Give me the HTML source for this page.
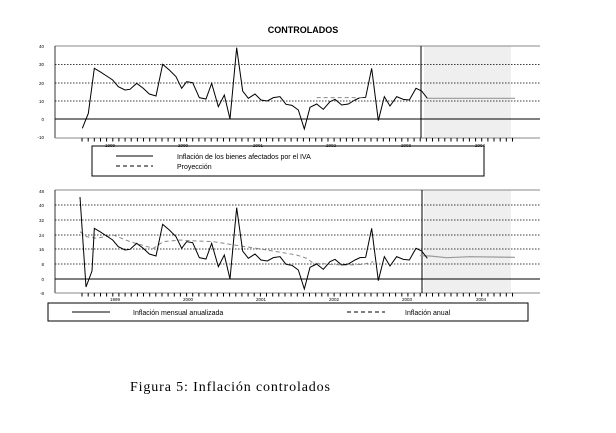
<!DOCTYPE html>
<html><head><meta charset="utf-8"><style>
body{margin:0;background:#fff;width:616px;height:433px;overflow:hidden}
svg{position:absolute;left:0;top:0}
text{font-family:"Liberation Sans",sans-serif}
</style></head><body>
<svg width="616" height="433" viewBox="0 0 616 433">
<text x="303" y="33" font-size="9" font-weight="bold" text-anchor="middle">CONTROLADOS</text>
<!-- chart 1 -->
<rect x="424" y="46" width="87" height="92" fill="#efefef"/>
<line x1="55" y1="46" x2="540" y2="46" stroke="#888" stroke-width="1"/>
<g stroke="#000" stroke-width="0.8" stroke-dasharray="1.5,1.5">
<line x1="55" y1="64.5" x2="540" y2="64.5"/><line x1="55" y1="83" x2="540" y2="83"/><line x1="55" y1="101" x2="540" y2="101"/></g>
<line x1="55" y1="119" x2="540" y2="119" stroke="#000" stroke-width="1"/>
<line x1="55" y1="46" x2="55" y2="138" stroke="#000" stroke-width="0.8"/>
<line x1="55" y1="138" x2="540" y2="138" stroke="#888" stroke-width="1"/>
<line x1="421" y1="46" x2="421" y2="138" stroke="#000" stroke-width="1"/>
<g font-size="4.5" text-anchor="end"><text x="44" y="48">40</text><text x="44" y="66">30</text><text x="44" y="85">20</text><text x="44" y="103">10</text><text x="44" y="121">0</text><text x="44" y="139">-10</text></g>
<g font-size="4.5" text-anchor="middle"><text x="110" y="147">1999</text><text x="183" y="147">2000</text><text x="258" y="147">2001</text><text x="331" y="147">2002</text><text x="406" y="147">2003</text><text x="480" y="147">2004</text></g>
<g id="ticks1" stroke="#000" stroke-width="1"></g>
<g transform="translate(30,20) scale(0.33333)" fill="none">
<polyline vector-effect="non-scaling-stroke" stroke="#000" stroke-width="1" points="157,325 175,280 193,145 210,155 230,168 248,180 265,200 285,210 300,208 320,190 340,205 358,222 378,228 398,133 418,150 438,170 455,205 470,185 488,188 508,233 528,237 545,190 565,260 583,225 600,297 620,83 638,213 655,235 675,222 693,240 712,243 730,233 750,230 768,253 786,256 805,270 823,327 840,262 860,252 880,268 900,245 915,238 935,255 955,252 975,240 990,233 1007,232 1025,145 1045,302 1063,230 1080,258 1100,230 1120,238 1138,240 1158,205 1175,213 1192,235"/>
<polyline vector-effect="non-scaling-stroke" stroke="#888" stroke-width="1" stroke-dasharray="4,3" points="860,233 1000,233"/>
<polyline vector-effect="non-scaling-stroke" stroke="#999" stroke-width="1.2" points="1192,235 1455,235"/>
</g>
<rect x="92" y="146" width="392" height="30" fill="none" stroke="#000" stroke-width="1"/>
<line x1="116" y1="156" x2="153" y2="156" stroke="#000"/>
<line x1="116" y1="166" x2="153" y2="166" stroke="#000" stroke-dasharray="4,3"/>
<text x="177" y="159" font-size="7">Inflación de los bienes afectados por el IVA</text>
<text x="177" y="169" font-size="7">Proyección</text>
<!-- chart 2 -->
<rect x="424" y="190" width="87" height="103" fill="#efefef"/>
<line x1="55" y1="190" x2="540" y2="190" stroke="#888" stroke-width="1"/>
<g stroke="#000" stroke-width="0.8" stroke-dasharray="1.5,1.5">
<line x1="55" y1="205" x2="540" y2="205"/><line x1="55" y1="220" x2="540" y2="220"/><line x1="55" y1="235" x2="540" y2="235"/><line x1="55" y1="249" x2="540" y2="249"/><line x1="55" y1="264" x2="540" y2="264"/></g>
<line x1="55" y1="279" x2="540" y2="279" stroke="#000" stroke-width="1"/>
<line x1="55" y1="190" x2="55" y2="293" stroke="#000" stroke-width="0.8"/>
<line x1="55" y1="293" x2="540" y2="293" stroke="#888" stroke-width="1"/>
<line x1="422" y1="190" x2="422" y2="293" stroke="#000" stroke-width="1"/>
<g font-size="4.5" text-anchor="end"><text x="44" y="193">48</text><text x="44" y="207">40</text><text x="44" y="222">32</text><text x="44" y="237">24</text><text x="44" y="251">16</text><text x="44" y="266">8</text><text x="44" y="281">0</text><text x="44" y="295">-8</text></g>
<g font-size="4.5" text-anchor="middle"><text x="115" y="301">1999</text><text x="188" y="301">2000</text><text x="261" y="301">2001</text><text x="334" y="301">2002</text><text x="407" y="301">2003</text><text x="481" y="301">2004</text></g>
<g id="ticks2" stroke="#000" stroke-width="1"></g>
<g transform="translate(30,185) scale(0.33333)" fill="none">
<polyline vector-effect="non-scaling-stroke" stroke="#888" stroke-width="1" stroke-dasharray="4,3" points="150,140 170,155 200,160 250,150 300,170 370,190 400,170 450,165 500,168 550,170 600,178 680,190 740,200 800,210 830,220 850,235 870,235 900,238 950,240 1000,238 1030,230"/>
<polyline vector-effect="non-scaling-stroke" stroke="#999" stroke-width="1.2" points="1170,212 1200,213 1250,218 1320,215 1455,217"/>
</g>
<g transform="translate(30,180) scale(0.33333)" fill="none">
<polyline vector-effect="non-scaling-stroke" stroke="#000" stroke-width="1" points="150,51 168,321 186,273 193,145 210,155 230,168 248,180 265,200 285,210 300,208 320,190 340,205 358,222 378,228 398,133 418,150 438,170 455,205 470,185 488,188 508,233 528,237 545,190 565,260 583,225 600,297 620,83 638,213 655,235 675,222 693,240 712,243 730,233 750,230 768,253 786,256 805,270 823,327 840,262 860,252 880,268 900,245 915,238 935,255 955,252 975,240 990,233 1007,232 1025,145 1045,302 1063,230 1080,258 1100,230 1120,238 1138,240 1158,205 1175,213 1192,235"/>
</g>
<rect x="48" y="303" width="480" height="18" fill="none" stroke="#000" stroke-width="1"/>
<line x1="72" y1="312" x2="110" y2="312" stroke="#000"/>
<line x1="347" y1="312" x2="385" y2="312" stroke="#000" stroke-dasharray="4,3"/>
<text x="133" y="315" font-size="7">Inflación mensual anualizada</text>
<text x="405" y="315" font-size="7">Inflación anual</text>
<text x="130" y="391" font-size="14" textLength="200" lengthAdjust="spacing" style="font-family:'Liberation Serif',serif">Figura 5: Inflación controlados</text>
</svg>
<script>
for(const [id,y] of [["ticks1",138],["ticks2",293]]){
 const g=document.getElementById(id);let s="";
 for(let x=82;x<=513;x+=6.15){s+=`<line x1="${x.toFixed(1)}" y1="${y}" x2="${x.toFixed(1)}" y2="${y+3.5}"/>`;}
 g.innerHTML=s;
}
</script>
</body></html>
